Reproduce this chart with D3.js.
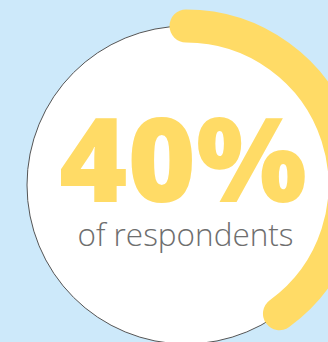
<!DOCTYPE html>
<html>
<head>
<meta charset="utf-8">
<script src="https://cdn.jsdelivr.net/npm/d3@7"></script>
<style>
  html, body { margin: 0; padding: 0; background: #cde9fa; overflow: hidden; }
</style>
</head>
<body>
<div id="chart"></div>
<script>
// Single percentage gauge
const values = [40];
const maxValue = [100];
const labels = ["of respondents"];

const width = 328, height = 342;
const cx = 186, cy = 185;
const radius = 159;
const thickness = 33;

const svg = d3.select("#chart").append("svg")
  .attr("width", width)
  .attr("height", height);

const g = svg.append("g").attr("transform", `translate(${cx},${cy})`);

// white disc with thin outline
g.append("circle")
  .attr("r", radius)
  .attr("fill", "#ffffff")
  .attr("stroke", "#555555")
  .attr("stroke-width", 1);

const angle = d3.scaleLinear().domain([0, maxValue[0]]).range([0, 2 * Math.PI]);

// arc on the circle edge, stroked thick with round caps
g.selectAll("path.gauge")
  .data(values)
  .join("path")
  .attr("class", "gauge")
  .attr("fill", "none")
  .attr("stroke", "#ffdb66")
  .attr("stroke-width", thickness)
  .attr("stroke-linecap", "round")
  .attr("d", d => {
    const path = d3.path();
    path.arc(0, 0, radius, -Math.PI / 2, angle(d) - Math.PI / 2, false);
    return path.toString();
  });

g.append("text")
  .attr("x", -3)
  .attr("y", 17)
  .attr("text-anchor", "middle")
  .style("font-family", "'Open Sans', sans-serif")
  .style("font-weight", "800")
  .style("font-size", "117px")
  .attr("fill", "#ffdb66")
  .text(values[0] + "%");

g.append("text")
  .attr("x", -0.5)
  .attr("y", 61)
  .attr("text-anchor", "middle")
  .style("font-family", "'Open Sans', sans-serif")
  .style("font-weight", "300")
  .style("font-size", "31.5px")
  .attr("fill", "#6e6e6e")
  .text(labels[0]);
</script>
</body>
</html>
